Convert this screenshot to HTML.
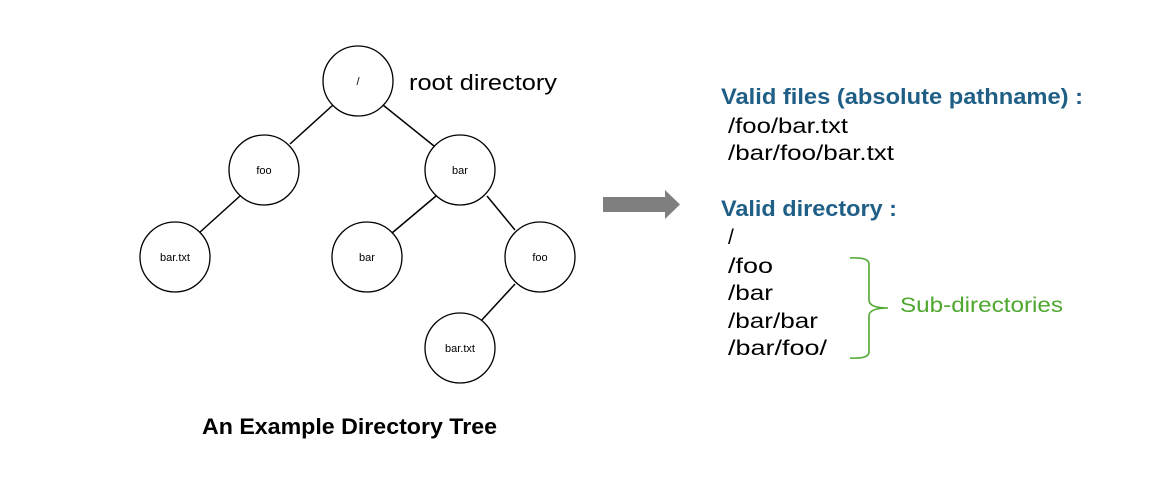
<!DOCTYPE html>
<html><head><style>body{margin:0;background:#fff}svg{display:block}</style></head>
<body>
<svg width="1176" height="495" xmlns="http://www.w3.org/2000/svg" font-family="Liberation Sans, DejaVu Sans, sans-serif">
<g stroke="#000" stroke-width="1.5">
<line x1="333" y1="105" x2="290" y2="144"/>
<line x1="383" y1="105" x2="434" y2="146"/>
<line x1="240" y1="196" x2="199" y2="233"/>
<line x1="436" y1="196" x2="392" y2="233"/>
<line x1="487" y1="196" x2="515" y2="230"/>
<line x1="515" y1="284" x2="480" y2="322"/>
</g>
<g fill="#fff" stroke="#000" stroke-width="1.3">
<circle cx="358" cy="81" r="35"/>
<circle cx="264" cy="170" r="35"/>
<circle cx="460" cy="170" r="35"/>
<circle cx="175" cy="257" r="35"/>
<circle cx="367" cy="257" r="35"/>
<circle cx="540" cy="257" r="35"/>
<circle cx="460" cy="348" r="35"/>
</g>
<g font-size="11" text-anchor="middle" fill="#000">
<text x="358" y="85">/</text>
<text x="264" y="174">foo</text>
<text x="460" y="174">bar</text>
<text x="175" y="261">bar.txt</text>
<text x="367" y="261">bar</text>
<text x="540" y="261">foo</text>
<text x="460" y="352">bar.txt</text>
</g>
<text x="409" y="90" font-size="22" textLength="148" lengthAdjust="spacingAndGlyphs">root directory</text>
<text x="202" y="434" font-size="22" font-weight="bold" textLength="295" lengthAdjust="spacingAndGlyphs">An Example Directory Tree</text>
<path d="M603 197 H665 V190 L680 204.5 L665 219 V212 H603 Z" fill="#7f7f7f"/>
<g font-size="22" font-weight="bold" fill="#1f5f86">
<text x="721" y="104" textLength="362" lengthAdjust="spacingAndGlyphs">Valid files (absolute pathname) :</text>
<text x="721" y="216" textLength="176" lengthAdjust="spacingAndGlyphs">Valid directory :</text>
</g>
<g font-size="21" fill="#000">
<text x="728" y="133" textLength="120" lengthAdjust="spacingAndGlyphs">/foo/bar.txt</text>
<text x="728" y="160" textLength="166" lengthAdjust="spacingAndGlyphs">/bar/foo/bar.txt</text>
<text x="728" y="244">/</text>
<text x="728" y="273" textLength="45" lengthAdjust="spacingAndGlyphs">/foo</text>
<text x="728" y="300" textLength="45" lengthAdjust="spacingAndGlyphs">/bar</text>
<text x="728" y="328" textLength="90" lengthAdjust="spacingAndGlyphs">/bar/bar</text>
<text x="728" y="355" textLength="99" lengthAdjust="spacingAndGlyphs">/bar/foo/</text>
</g>
<path d="M850 258 Q869 257 869 264 V300 Q869 308 888 308 Q869 308 869 316 V352 Q869 359 850 358" fill="none" stroke="#4ea72e" stroke-width="1.6"/>
<text x="900" y="312" font-size="21" fill="#4ea72e" textLength="163" lengthAdjust="spacingAndGlyphs">Sub-directories</text>
</svg>
</body></html>
